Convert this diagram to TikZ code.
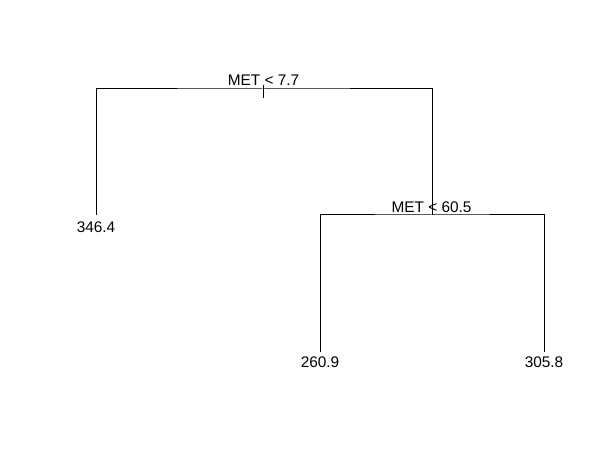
\documentclass[tikz,border=0pt]{standalone}
\usepackage{fontspec}
\setmainfont{Liberation Sans}
\usetikzlibrary{positioning}
\tikzset{
  branch/.style={draw=black, line width=0.75pt},
  splitlbl/.style={anchor=base, inner sep=0pt, font=\fontsize{11.6}{13}\selectfont},
  leaflbl/.style={anchor=base, inner sep=0pt, font=\fontsize{11.6}{13}\selectfont}}

\begin{document}
\begin{tikzpicture}[x=0.0265cm, y=0.0265cm]
    \useasboundingbox (0,0) rectangle (603,460);
    % split points and leaves
    \coordinate (root) at (263,371);
    \coordinate (rtop) at (263,375);
    \coordinate (rbot) at (263,362);
    \coordinate (lfa) at (96,245);
    \coordinate (spl) at (432,245);
    \coordinate (lfb) at (320,108);
    \coordinate (lfc) at (544,108);
    % branches
    \draw[branch] (rtop) -- (rbot);
    \draw[branch] (lfa) |- (root) -| (spl);
    \draw[branch] (lfb) |- (spl) -| (lfc);
    % labels
    \node[splitlbl] (s1) at (263.5,374) {MET < 7.7};
    \node[splitlbl] (s2) at (431.5,247) {MET < 60.5};
    \node[leaflbl] (a) at (96,227) {346.4};
    \node[leaflbl] (b) at (320,92) {260.9};
    \node[leaflbl] (c) at (544,92) {305.8};
  \end{tikzpicture}
\end{document}
